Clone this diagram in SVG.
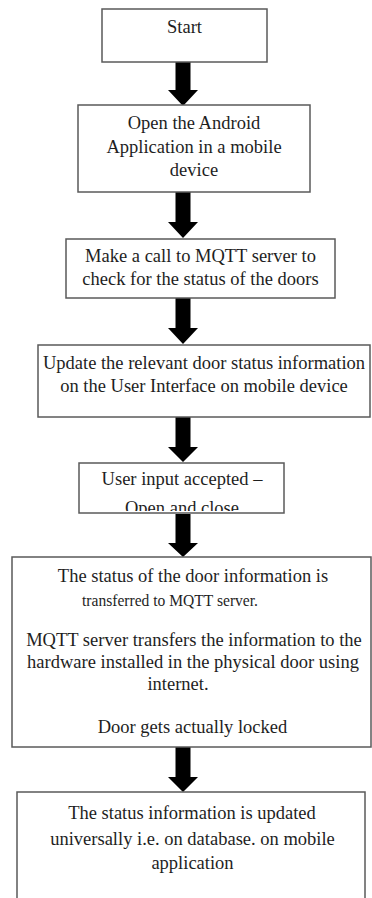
<svg xmlns="http://www.w3.org/2000/svg" width="372" height="898" viewBox="0 0 372 898">
<style>
.box{fill:#fff;stroke:#5a5a5a;stroke-width:1.5}
text{font-family:'Liberation Serif','Times New Roman',Times,serif;fill:#1e1e1e}
.t{font-size:18.5px;text-anchor:middle}
.s{font-size:17px}
.arr{fill:#000}
</style>
<defs>
<clipPath id="c5"><rect x="80" y="464" width="203" height="47"/></clipPath>
</defs>
<rect width="372" height="898" fill="#fff"/>
<g id="connectors">
<polygon class="arr" points="175.5,62 190.5,62 190.5,90 198,90 183,106 168,90 175.5,90"/>
<polygon class="arr" points="175.5,192 190.5,192 190.5,222 198,222 183,238 168,222 175.5,222"/>
<polygon class="arr" points="175.5,298 190.5,298 190.5,328 198,328 183,344 168,328 175.5,328"/>
<polygon class="arr" points="175.5,417 190.5,417 190.5,447 198,447 183,462 168,447 175.5,447"/>
<polygon class="arr" points="175.5,514 190.5,514 190.5,543 198,543 183,557 168,543 175.5,543"/>
<polygon class="arr" points="175.5,747 190.5,747 190.5,777 198,777 183,792 168,777 175.5,777"/>
</g>
<g id="n1">
<rect class="box" x="102" y="9" width="165" height="53"/>
<text class="t" x="184.5" y="33">Start</text>
</g>
<g id="n2">
<rect class="box" x="78" y="105" width="232" height="87"/>
<text class="t" x="194" y="129">Open the Android</text>
<text class="t" x="194" y="153">Application in a mobile</text>
<text class="t" x="194" y="176">device</text>
</g>
<g id="n3">
<rect class="box" x="66" y="239" width="269" height="59"/>
<text class="t" x="200.5" y="262">Make a call to MQTT server to</text>
<text class="t" x="200.5" y="285">check for the status of the doors</text>
</g>
<g id="n4">
<rect class="box" x="38" y="345" width="332" height="72"/>
<text class="t" x="204" y="369">Update the relevant door status information</text>
<text class="t" x="204" y="392">on the User Interface on mobile device</text>
</g>
<g id="n5">
<rect class="box" x="79" y="463" width="205" height="50"/>
<g clip-path="url(#c5)">
<text class="t" x="182" y="485">User input accepted –</text>
<text class="t" x="182" y="514">Open and close</text>
</g>
</g>
<g id="n6">
<rect class="box" x="12" y="557" width="359" height="190"/>
<text class="t" x="193" y="582">The status of the door information is</text>
<text class="s" x="82" y="606" textLength="176" lengthAdjust="spacingAndGlyphs">transferred to MQTT server.</text>
<text class="t" x="194" y="646">MQTT server transfers the information to the</text>
<text class="t" x="193" y="668">hardware installed in the physical door using</text>
<text class="t" x="178" y="690">internet.</text>
<text class="t" x="192.5" y="733">Door gets actually locked</text>
</g>
<g id="n7">
<rect class="box" x="17" y="792" width="348" height="120"/>
<text class="t" x="192" y="819">The status information is updated</text>
<text class="t" x="192.5" y="845">universally i.e. on database. on mobile</text>
<text class="t" x="192.5" y="869">application</text>
</g>
</svg>
